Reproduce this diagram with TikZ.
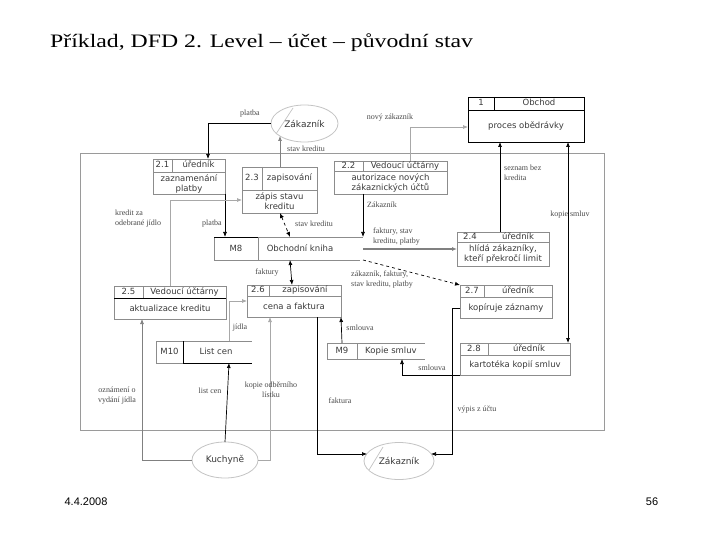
\documentclass[tikz,border=0pt]{standalone}
\usepackage{fontspec}
\setmainfont{Liberation Serif}
\newfontfamily\boxfont{DejaVu Sans}
\newfontfamily\footfont{Liberation Sans}
\usetikzlibrary{arrows.meta,shapes.geometric}
\definecolor{framec}{HTML}{9A9A9A}
\definecolor{boxln}{HTML}{8C8C8C}
\definecolor{txt}{HTML}{3A3A3A}
\definecolor{lbl}{HTML}{4A4A4A}
\definecolor{lightln}{HTML}{A8A8A8}
\definecolor{entln}{HTML}{C4C4C4}
\tikzset{
 pbox/.style={draw=boxln, line width=0.8pt, inner sep=0pt, outer sep=0pt},
 pline/.style={draw=boxln, line width=0.8pt},
 ptext/.style={font=\boxfont\fontsize{8.5}{10}\selectfont, text=txt, inner sep=0pt, align=center},
 htext/.style={ptext, text height=6.5pt, text depth=1.8pt},
 lab/.style={font=\fontsize{8}{10}\selectfont, text=lbl, inner sep=0pt, align=center},
 arr/.style={line width=0.7pt, -{Latex[length=5pt,width=4pt]}},
 garr/.style={arr, draw=lightln},
 dblarr/.style={line width=0.7pt, {Latex[length=5pt,width=4pt]}-{Latex[length=5pt,width=4pt]}},
 dasharr/.style={line width=0.7pt, dashed, -{Latex[length=5pt,width=4pt]}},
 entity/.style={ellipse, draw=entln, line width=0.8pt, inner sep=0pt, outer sep=0pt, font=\boxfont\fontsize{9}{11}\selectfont, text=txt},
 store/.style={inner sep=0pt, outer sep=0pt}
}
% name, x1, y1, x2, y2, ysplit, xnum, number, role
\newcommand\procbox[9]{%
 \node[pbox, minimum width={#4-#2}, minimum height={#5-#3}] (#1) at ({(#2+#4)/2},{(#3+#5)/2}) {};
 \draw[pline] (#2,#6) -- (#4,#6);
 \draw[pline] (#7,#3) -- (#7,#6);
 \node[htext] at ({(#2+#7)/2},{(#3+#6)/2}) {#8};
 \node[htext] at ({(#7+#4)/2},{(#3+#6)/2}) {#9};
}
\begin{document}
\begin{tikzpicture}[x=1pt,y=-1pt]
\useasboundingbox (0,0) rectangle (720,540);
\fill[white] (0,0) rectangle (720,540);

% title and footer
\node[anchor=base west, inner sep=0pt, font=\fontsize{19}{22}\selectfont] (title) at (50,48)
  {\scalebox{1.25}[1]{Příklad, DFD 2. Level – účet – původní stav}};
\node[anchor=base, inner sep=0pt, font=\footfont\fontsize{11}{13}\selectfont] (date) at (86,505) {4.4.2008};
\node[anchor=base, inner sep=0pt, font=\footfont\fontsize{11}{13}\selectfont] (page) at (652,505) {56};

% outer frame
\draw[framec, line width=1pt] (80,154) rectangle (604,430);

% helper coordinates (x or y positions)
\coordinate (c208) at (208,0);
\coordinate (c280) at (280,0);
\coordinate (c280t) at (280,136);
\coordinate (c410) at (410,127);
\coordinate (c500) at (500,0);
\coordinate (c568) at (568,0);
\coordinate (c363) at (363,0);
\coordinate (c225) at (225,0);
\coordinate (c170) at (170,200);
\coordinate (c290) at (290,0);
\coordinate (c292) at (292,0);
\coordinate (c249) at (0,249);
\coordinate (c229) at (229,301);
\coordinate (c342) at (342,0);
\coordinate (c402) at (402,0);
\coordinate (c308) at (0,308);
\coordinate (c452a) at (452,308);
\coordinate (c452b) at (452,454);
\coordinate (zbR) at (431,454);
\coordinate (zbL) at (367,454);
\coordinate (c317) at (317,0);
\coordinate (c270) at (270,0);
\coordinate (c142) at (142,0);

% external entities
\node[entity, minimum width=67pt, minimum height=37pt] (zakT) at (304.5,123.5) {Zákazník};
\draw[entln, line width=0.7pt] (276,134) -- (293,108);
\node[entity, minimum width=70pt, minimum height=37pt] (zakB) at (399,461) {Zákazník};
\draw[entln, line width=0.7pt] (369,470) -- (383,447);
\node[entity, minimum width=66pt, minimum height=36pt] (kuch) at (225,460) {Kuchyně};

% process 1 Obchod
\begin{scope}
\colorlet{boxln}{black}
\procbox{obchod}{468}{97}{584}{142}{110}{494}{1}{Obchod}
\end{scope}
\node[ptext] at (526,126) {proces obědrávky};

% processes
\procbox{p21}{153}{159}{225}{194}{172}{172}{2.1}{úředník}
\node[ptext] at (189,183.5) {zaznamenání\\platby};
\procbox{p23}{242}{167}{317}{213}{190}{262}{2.3}{zapisování}
\node[ptext] at (279.5,201.5) {zápis stavu\\kreditu};
\procbox{p22}{334}{161}{447}{194}{171}{363}{2.2}{Vedoucí účtárny}
\node[ptext] at (390.5,182.5) {autorizace nových\\zákaznických účtů};
% 2.4 without number divider
\node[pbox, minimum width=92pt, minimum height=34pt] (p24) at (503,249) {};
\draw[pline] (457,242) -- (549,242);
\node[htext] at (470,237) {2.4};
\node[htext] at (518,237) {úředník};
\node[ptext] at (503,254) {hlídá zákazníky,\\kteří překročí limit};
\procbox{p25}{114}{286}{226}{319}{298}{143}{2.5}{Vedoucí účtárny}
\draw[black, line width=1pt] (114,298) -- (226,298);
\node[ptext] at (170,308.5) {aktualizace kreditu};
\procbox{p26}{247}{285}{341}{317}{296}{269}{2.6}{zapisování}
\node[ptext] at (294,306.5) {cena a faktura};
\procbox{p27}{460}{285}{552}{318}{297}{484}{2.7}{úředník}
\node[ptext] at (506,307.5) {kopíruje záznamy};
\procbox{p28}{460}{343}{570}{375}{355}{488}{2.8}{úředník}
\node[ptext] at (515,365) {kartotéka kopií smluv};

% data stores
\node[store, minimum width=149pt, minimum height=23pt] (m8) at (288.5,248.5) {};
\draw[pline] (214,237) -- (363,237) (214,260) -- (360,260) (214,237) -- (214,260) (258,237) -- (258,260);
\draw[black, line width=1pt] (214,237) -- (258,237);
\node[htext] at (236,249) {M8};
\node[htext] at (300,249) {Obchodní kniha};

\node[store, minimum width=98pt, minimum height=16pt] (m9) at (376,351) {};
\draw[pline] (327,343) -- (425,343) (327,359) -- (425,359) (327,343) -- (327,359) (357,343) -- (357,359);
\node[htext] at (342,351) {M9};
\node[htext] at (391,351) {Kopie smluv};

\node[store, minimum width=96pt, minimum height=22pt] (m10) at (204,352) {};
\draw[pline] (156,341) -- (252,341) (156,341) -- (156,363) (183,341) -- (183,363);
\draw[black, line width=1pt] (183,341) -- (183,363) (183,363) -- (252,363);
\draw[pline] (156,363) -- (183,363);
\node[htext] at (169.5,352) {M10};
\node[htext] at (216,352) {List cen};

% connectors
\draw[arr] (zakT.west) -| (p21.north -| c208);
\node[lab] at (250,114) {platba};
\draw[arr, draw=gray] (p23.north -| c280) -- (c280t);
\node[lab] at (306,149) {stav kreditu};
\draw[garr] (p22.north -| c410) |- (obchod.west |- c410);
\node[lab] at (390,118) {nový zákazník};
\draw[arr] (p24.north -| c500) -- (obchod.south -| c500);
\node[lab, anchor=west, align=left] at (504,173) {seznam bez\\kredita};
\draw[dblarr] (obchod.south -| c568) -- (p28.north -| c568);
\node[lab] at (570,215) {kopie smluv};
\draw[arr] (p22.south -| c363) -- (m8.north east);
\node[lab, anchor=west] at (367,205) {Zákazník};
\draw[arr] (p21.south east) -- (m8.north -| c225);
\node[lab] at (212,224) {platba};
\draw[garr] (p25.north -| c170) |- (p23.west |- c170);
\node[lab, anchor=west, align=left] at (115,219) {kredit za\\odebrané jídlo};
\draw[dblarr, dashed] (p23.south -| c280) -- (m8.north -| c290);
\node[lab] at (314,224) {stav kreditu};
\draw[dblarr] (m8.south -| c290) -- (p26.north -| c292);
\node[lab] at (267,273) {faktury};
\draw[arr, draw=gray, line width=1.3pt] (m8.east |- c249) -- (p24.west |- c249);
\node[lab, anchor=west, align=left] at (373,237) {faktury, stav\\kreditu, platby};
\draw[dasharr] (m8.south east) -- (p27.north west);
\node[lab, anchor=west, align=left] at (351,280) {zákazník, faktury,\\stav kreditu, platby};
\draw[garr] (m10.north -| c229) |- (p26.west |- c229);
\node[lab] at (240,328) {jídla};
\draw[arr] (m9.north -| c342) -- (p26.south east);
\node[lab] at (360,328) {smlouva};
\draw[arr] (p28.south west) -| (m9.south -| c402);
\node[lab] at (432,368) {smlouva};
\draw[arr] (p27.west |- c308) -- (c452a) -- (c452b) -- (zbR);
\node[lab] at (477,410) {výpis z účtu};
\draw[arr] (p26.south -| c317) |- (zbL);
\node[lab] at (340,401) {faktura};
\draw[garr] (kuch.east) -| (p26.south -| c270);
\node[lab] at (271,390) {kopie odběrního\\lístku};
\draw[arr] (kuch.north) -- (m10.south -| c229);
\node[lab] at (210,391) {list cen};
\draw[arr, draw=gray] (kuch.west) -| (p25.south -| c142);
\node[lab] at (117,396) {oznámení o\\vydání jídla};
\end{tikzpicture}
\end{document}
